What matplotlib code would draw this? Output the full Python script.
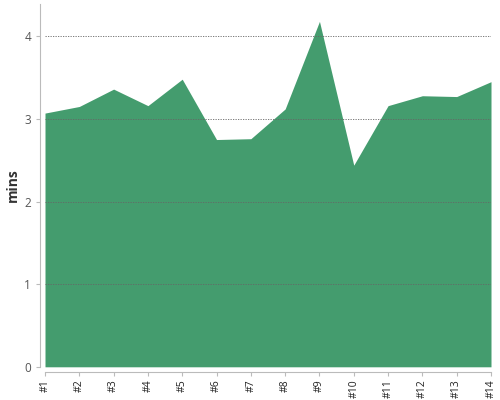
import numpy as np
from matplotlib import pyplot as plt

labels = ['#1', '#2', '#3', '#4', '#5', '#6', '#7', '#8', '#9', '#10', '#11', '#12', '#13', '#14']
mins = [3.07, 3.15, 3.36, 3.16, 3.48, 2.75, 2.76, 3.12, 4.18, 2.44, 3.16, 3.28, 3.27, 3.45]

plt.rcParams['font.family'] = ['Open Sans', 'DejaVu Sans']

fig = plt.figure(figsize=(5, 4), dpi=100)
ax = fig.add_axes([0.09, 0.083, 0.892, 0.907])

x = np.arange(len(mins))
ax.fill_between(x, 0, mins, color='#449c6e', lw=0, zorder=1)

ax.set_xlim(0, len(mins) - 1)
ax.set_ylim(0, 4.39)
ax.set_xticks(x)
ax.set_xticklabels(labels)
ax.set_yticks([0, 1, 2, 3, 4])
ax.tick_params(axis='y', labelsize=8.5, labelcolor='#555555', length=3, color='#bbbbbb')
ax.tick_params(axis='x', length=3, color='#bbbbbb', pad=2, labelrotation=90,
               labelsize=7.5, labelcolor='#222222')
for lbl in ax.get_xticklabels():
    lbl.set_fontfamily('Liberation Sans')

for y in [1, 2, 3, 4]:
    ax.axhline(y, color='#666666', lw=0.6, ls=(0, (1.5, 1.5)), zorder=2)

for s in ['top', 'right']:
    ax.spines[s].set_visible(False)
ax.spines['left'].set_position(('outward', 3.5))
ax.spines['bottom'].set_position(('outward', 4))
ax.spines['left'].set_color('#bbbbbb')
ax.spines['bottom'].set_color('#bbbbbb')

ax.set_ylabel('mins', fontsize=10, fontweight='bold', color='#333333', labelpad=3)

fig.savefig('out.png')
